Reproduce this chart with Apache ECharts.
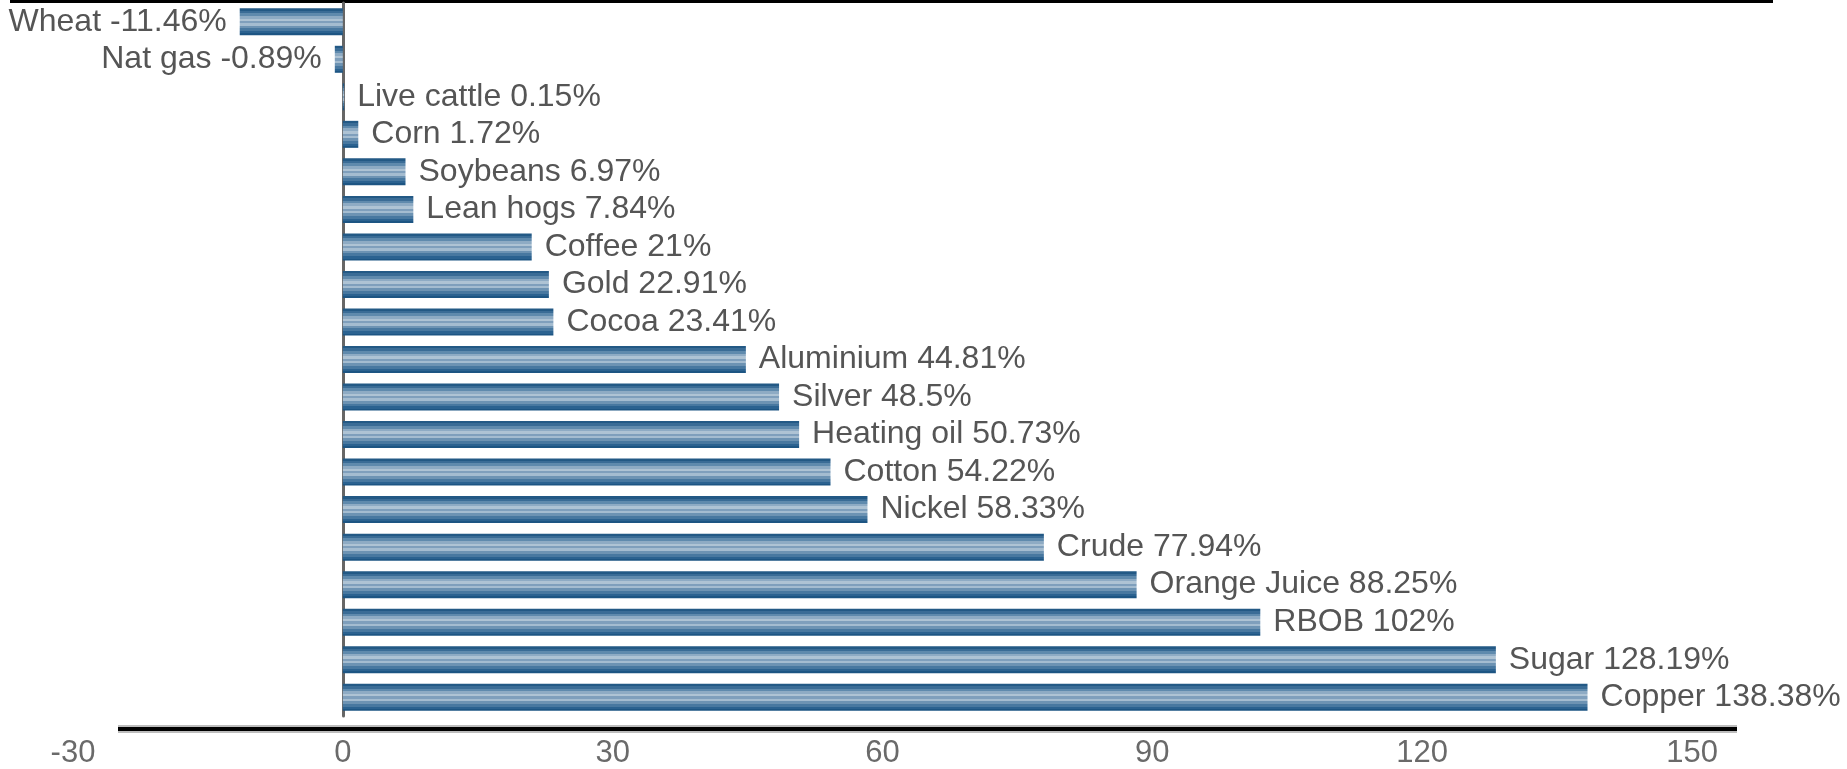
<!DOCTYPE html>
<html>
<head>
<meta charset="utf-8">
<script src="https://cdn.jsdelivr.net/npm/echarts@6/dist/echarts.min.js"></script>
<style>
html,body{margin:0;padding:0;background:#fff;}
#chart{width:1847px;height:769px;}
</style>
</head>
<body>
<div id="chart"></div>
<script>
const categories = ['Wheat','Nat gas','Live cattle','Corn','Soybeans','Lean hogs','Coffee','Gold','Cocoa','Aluminium','Silver','Heating oil','Cotton','Nickel','Crude','Orange Juice','RBOB','Sugar','Copper'];
const values = [-11.46, -0.89, 0.15, 1.72, 6.97, 7.84, 21, 22.91, 23.41, 44.81, 48.5, 50.73, 54.22, 58.33, 77.94, 88.25, 102, 128.19, 138.38];
const tickValues = [-30, 0, 30, 60, 90, 120, 150];

function hard(list){
  const stops = [];
  for (let i = 0; i < list.length; i++) {
    const s = list[i][0], e = (i + 1 < list.length) ? list[i+1][0] : 1;
    stops.push({offset: s, color: list[i][1]});
    stops.push({offset: e, color: list[i][1]});
  }
  return stops;
}
const stripe = new echarts.graphic.LinearGradient(0, 0, 0, 1, hard([
  [0, '#235985'], [0.09, '#3a6c96'], [0.18, '#5f8aad'], [0.28, '#8eabc4'],
  [0.38, '#aec3d4'], [0.47, '#7f9fbc'], [0.55, '#a4bcd0'], [0.64, '#6d93b3'],
  [0.74, '#4878a0'], [0.85, '#2b6290'], [0.93, '#1d5583']
]));

const data = values.map((v, i) => ({
  value: v,
  label: { position: v < 0 ? 'left' : 'right' }
}));

const chart = echarts.init(document.getElementById('chart'));
chart.setOption({
  animation: false,
  backgroundColor: '#fff',
  grid: { left: 10, right: 74, top: 3, bottom: 48, containLabel: false },
  xAxis: {
    type: 'value',
    min: -37, max: 159,
    splitLine: { show: false },
    axisLine: { show: false },
    axisTick: { show: false },
    axisLabel: {
      customValues: tickValues,
      margin: 22,
      fontFamily: 'Liberation Sans, Arial, sans-serif',
      fontSize: 31,
      color: '#6a6a6a'
    }
  },
  yAxis: {
    type: 'category',
    inverse: true,
    data: categories,
    axisLine: { show: true, onZero: true, lineStyle: { color: '#666', width: 3 } },
    axisTick: { show: false },
    axisLabel: { show: false },
    splitLine: { show: false }
  },
  series: [{
    type: 'bar',
    data: data,
    barWidth: 27,
    itemStyle: { color: stripe },
    label: {
      show: true,
      distance: 13,
      fontFamily: 'Liberation Sans, Arial, sans-serif',
      fontSize: 32,
      color: '#555',
      formatter: p => categories[p.dataIndex] + ' ' + p.value + '%'
    }
  }],
  graphic: [
    { type: 'rect', shape: { x: 10, y: 0, width: 1763, height: 3 }, style: { fill: '#000' }, silent: true },
    { type: 'rect', shape: { x: 118, y: 725, width: 1619, height: 8 }, style: { fill: '#bdbdbd' }, silent: true },
    { type: 'rect', shape: { x: 118, y: 727, width: 1619, height: 4 }, style: { fill: '#000' }, silent: true }
  ]
});
</script>
</body>
</html>
